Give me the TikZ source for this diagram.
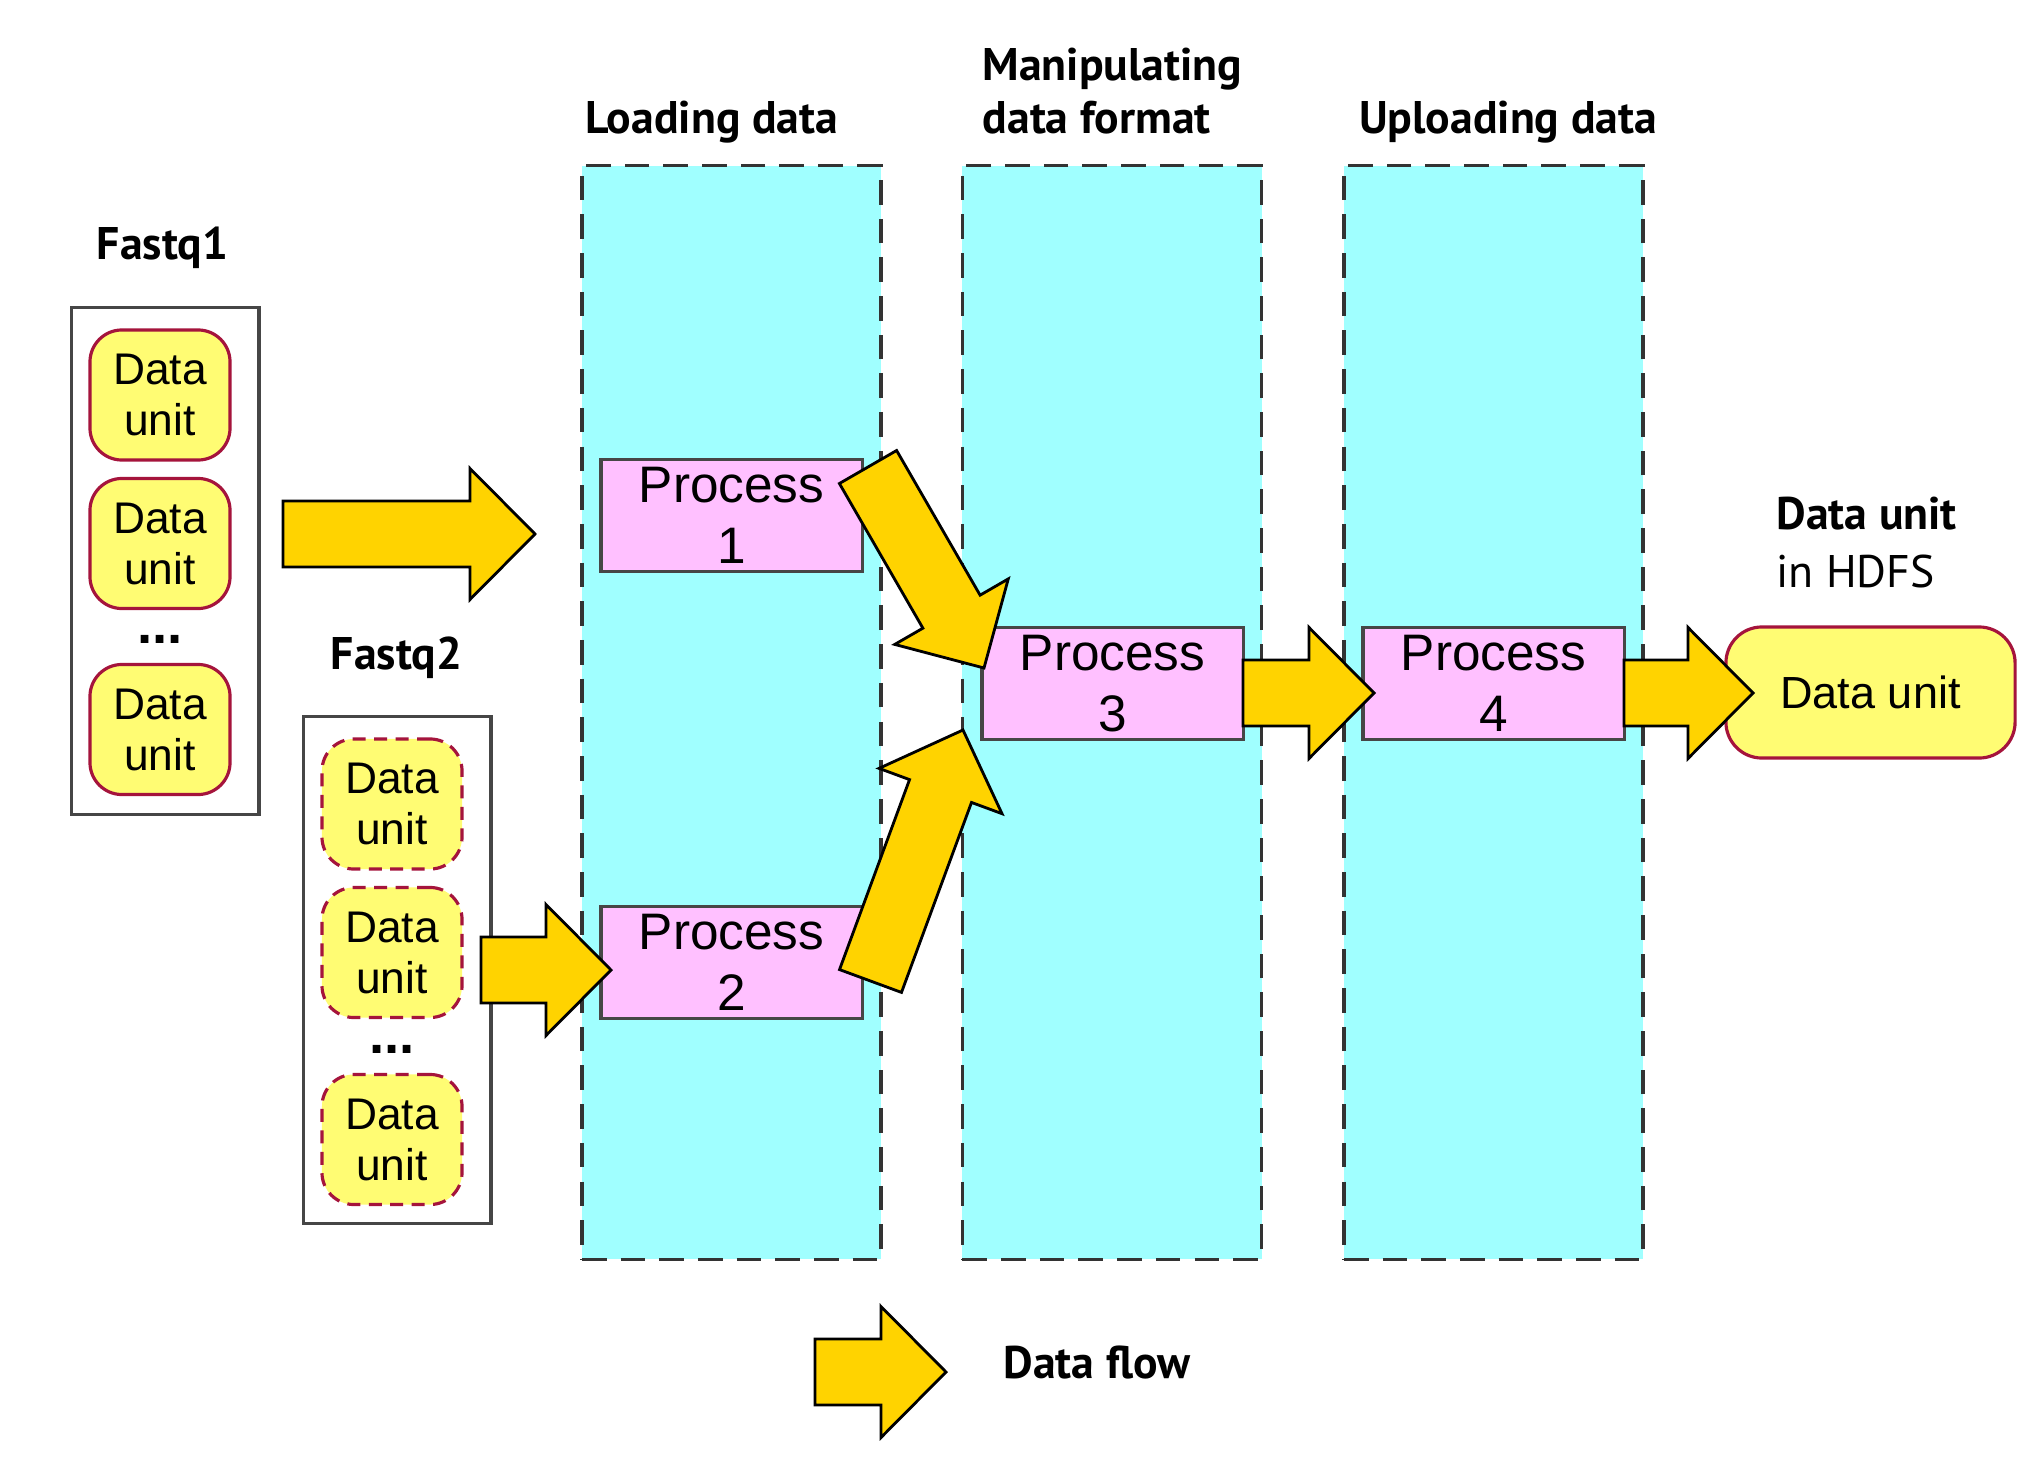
\documentclass[tikz,border=0pt]{standalone}
\usepackage{fontspec}
\setmainfont{Liberation Sans}
\newfontfamily\labelfont{PT Sans}
\usetikzlibrary{calc}

\definecolor{colcyan}{RGB}{160,255,255}
\definecolor{procpink}{RGB}{255,192,255}
\definecolor{unityellow}{RGB}{255,252,115}
\definecolor{unitred}{RGB}{165,20,60}
\definecolor{flowgold}{RGB}{255,211,0}
\definecolor{framegray}{RGB}{70,70,70}

% 太い矢印 (始点, 先端)
\newcommand{\flowarrow}[2]{%
  \coordinate (fa-h) at ($(#2)!0.65cm!(#1)$);
  \draw[flow] ($(#1)!0.33cm!90:(#2)$) -- ($(fa-h)!0.33cm!90:(#2)$)
    -- ($(fa-h)!0.655cm!90:(#2)$) -- (#2)
    -- ($(fa-h)!0.655cm!-90:(#2)$) -- ($(fa-h)!0.33cm!-90:(#2)$)
    -- ($(#1)!0.33cm!-90:(#2)$) -- cycle;
}

\begin{document}
\begin{tikzpicture}[x=0.01cm, y=-0.01cm,
    unit/.style={draw=unitred, line width=0.9pt, fill=unityellow, rounded corners=0.32cm,
      minimum width=1.4cm, minimum height=1.3cm, inner sep=0pt, align=center,
      font=\fontsize{12.6}{14.5}\selectfont},
    dunit/.style={unit, dash pattern=on 3.7pt off 2.4pt},
    filebox/.style={draw=framegray, line width=0.9pt, minimum width=1.874cm,
      minimum height=5.07cm, inner sep=0pt},
    stage/.style={draw=black!80, line width=1pt, fill=colcyan,
      dash pattern=on 7pt off 4pt, minimum width=2.99cm, minimum height=10.93cm, inner sep=0pt},
    proc/.style={draw=framegray, line width=0.9pt, fill=procpink, minimum width=2.61cm,
      minimum height=1.12cm, inner sep=0pt, align=center, font=\fontsize{14.6}{17.4}\selectfont},
    flow/.style={draw=black, line width=0.8pt, fill=flowgold, line join=miter},
    dots/.style={anchor=base, inner sep=0pt, font=\fontsize{15.5}{16}\bfseries},
    lbl/.style={font=\labelfont\bfseries\fontsize{13}{15}\selectfont, inner sep=0pt}]

    \useasboundingbox (0,0) rectangle (2037,1470);

    % 列
    \node[stage] (load) at (731.5,712.5) {};
    \node[stage] (manip) at (1112,712.5) {};
    \node[stage] (upload) at (1493.5,712.5) {};

    % 見出し
    \node[lbl, anchor=base] (loadlbl) at (711.5,134) {Loading data};
    \node[lbl, anchor=base west] (maniplbl) at (982,81) {Manipulating};
    \node[lbl, anchor=base west] (maniplbl2) at (982,134) {data format};
    \node[lbl, anchor=base] (uplbl) at (1508,134) {Uploading data};
    \node[lbl, anchor=base] (fq1lbl) at (162.5,260) {Fastq1};
    \node[lbl, anchor=base] (fq2lbl) at (396.5,669) {Fastq2};
    \node[lbl, anchor=base west] (outlbl) at (1776,529) {Data unit};
    \node[lbl, anchor=base west, font=\labelfont\fontsize{13}{15}\selectfont] (hdfslbl) at (1776,587) {in HDFS};
    \node[lbl, anchor=base west] (flowlbl) at (1003,1378) {Data flow};

    % Fastq1
    \node[filebox] (fq1) at (165.3,561) {};
    \node[unit] (u11) at (160,395) {Data\\unit};
    \node[unit] (u12) at (160,543.5) {Data\\unit};
    \node[dots] (dots1) at (160,643) {...};
    \node[unit] (u13) at (160,729.5) {Data\\unit};

    % Fastq2
    \node[filebox] (fq2) at (397.3,970) {};
    \node[dunit] (u21) at (392,804) {Data\\unit};
    \node[dunit] (u22) at (392,952.5) {Data\\unit};
    \node[dots] (dots2) at (392,1053) {...};
    \node[dunit] (u23) at (392,1139.5) {Data\\unit};

    % プロセス
    \node[proc] (p1) at (731.5,515.5) {Process\\1};
    \node[proc] (p2) at (731.5,962.5) {Process\\2};
    \node[proc] (p3) at (1112.5,683.5) {Process\\3};
    \node[proc] (p4) at (1493.5,683.5) {Process\\4};
    \node[unit, minimum width=2.89cm, minimum height=1.31cm, rounded corners=0.36cm,
      font=\fontsize{12.8}{15}\selectfont] (out) at (1870.5,692.5) {Data unit};

    % 矢印の端
    \coordinate (a1s) at (283,534);    \coordinate (a1e) at (535,534);
    \coordinate (a2s) at (481,970);    \coordinate (a2e) at (611,970);
    \coordinate (a3s) at (868,467);    \coordinate (a3e) at (984,668);
    \coordinate (a4s) at (870.5,981);  \coordinate (a4e) at (963,730);
    \coordinate (a5s) at (1243,693);   \coordinate (a5e) at (1374,693);
    \coordinate (a6s) at (1624,693);   \coordinate (a6e) at (1753,693);
    \coordinate (lgs) at (815,1372);   \coordinate (lge) at (946,1372);

    % 矢印
    \flowarrow{a1s}{a1e}
    \flowarrow{a2s}{a2e}
    \flowarrow{a3s}{a3e}
    \flowarrow{a4s}{a4e}
    \flowarrow{a5s}{a5e}
    \flowarrow{a6s}{a6e}
    \flowarrow{lgs}{lge}

\end{tikzpicture}
\end{document}
